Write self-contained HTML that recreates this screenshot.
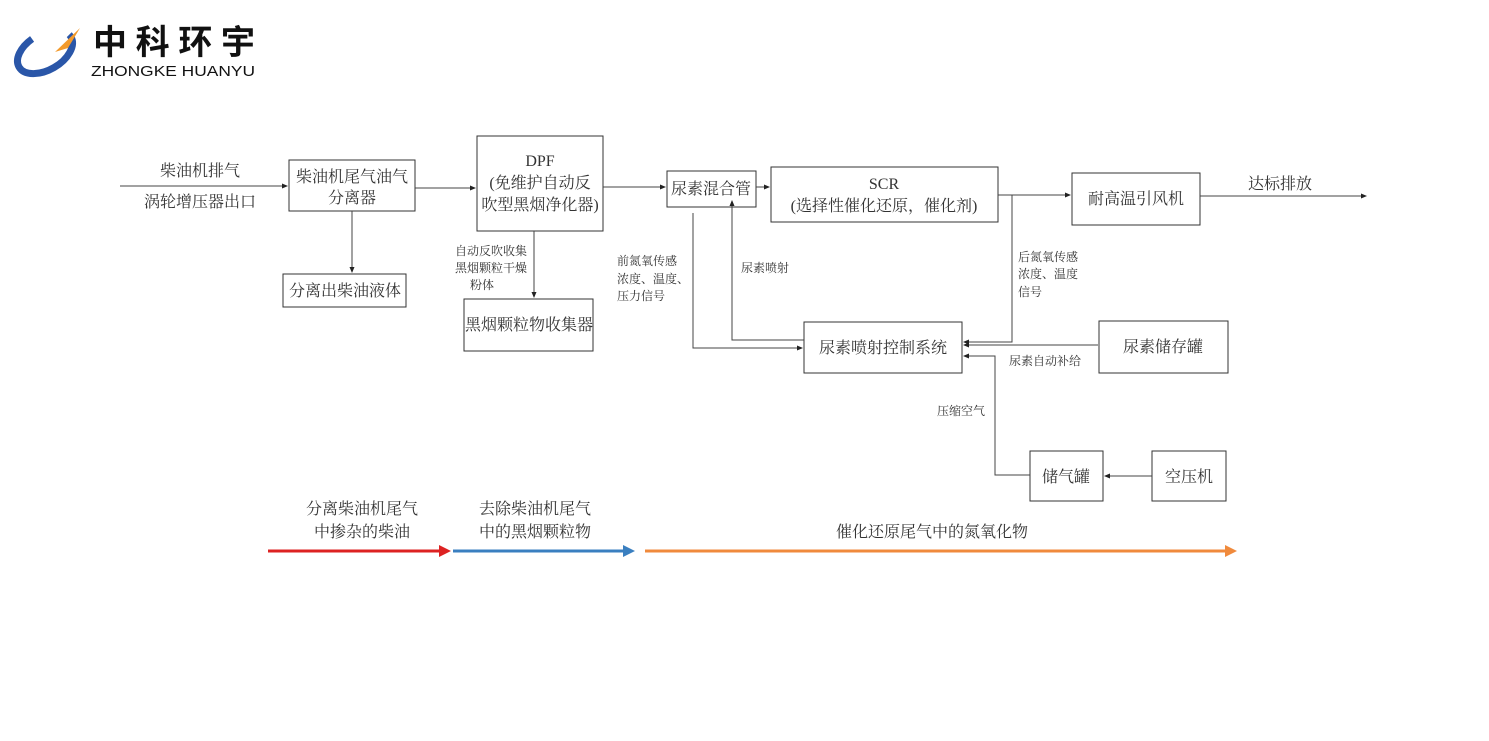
<!DOCTYPE html>
<html><head><meta charset="utf-8"><style>
body{margin:0;background:#fff;width:1489px;height:736px;overflow:hidden}
text{font-family:"Liberation Serif","Noto Serif CJK SC",serif;fill:#333}
.s{font-family:"Liberation Sans","Noto Sans CJK SC",sans-serif}
</style></head><body>
<svg width="1489" height="736" xmlns="http://www.w3.org/2000/svg">
<defs>
<marker id="a" markerWidth="6" markerHeight="6" refX="5" refY="3" orient="auto"><path d="M0,0.5 L6,3 L0,5.5z" fill="#222"/></marker>
<marker id="r" markerWidth="4" markerHeight="4" refX="3" refY="2" orient="auto"><path d="M0,0 L4,2 L0,4z" fill="#d22"/></marker>
<marker id="b" markerWidth="4" markerHeight="4" refX="3" refY="2" orient="auto"><path d="M0,0 L4,2 L0,4z" fill="#3a7fc0"/></marker>
<marker id="o" markerWidth="4" markerHeight="4" refX="3" refY="2" orient="auto"><path d="M0,0 L4,2 L0,4z" fill="#f08a3c"/></marker>
</defs>
<!-- logo -->
<ellipse cx="45" cy="52" rx="30" ry="18" fill="none" stroke="#2a56a8" stroke-width="7" transform="rotate(-30 45 52)" stroke-dasharray="110 40"/>
<path d="M55 52 L80 28 L68 48z" fill="#f39a2b"/>
<text class="s" x="93" y="54" font-size="34" font-weight="bold" style="fill:#111" textLength="162" lengthAdjust="spacing">中科环宇</text>
<text class="s" x="91" y="76" font-size="15" style="fill:#111" textLength="164" lengthAdjust="spacingAndGlyphs">ZHONGKE HUANYU</text>
<g stroke="#333" stroke-width="1" fill="none">
<rect x="289" y="160" width="126" height="51"/>
<rect x="477" y="136" width="126" height="95"/>
<rect x="667" y="171" width="89" height="36"/>
<rect x="771" y="167" width="227" height="55"/>
<rect x="1072" y="173" width="128" height="52"/>
<rect x="283" y="274" width="123" height="33"/>
<rect x="464" y="299" width="129" height="52"/>
<rect x="804" y="322" width="158" height="51"/>
<rect x="1099" y="321" width="129" height="52"/>
<rect x="1030" y="451" width="73" height="50"/>
<rect x="1152" y="451" width="74" height="50"/>
</g>
<g stroke="#444" stroke-width="1" fill="none" marker-end="url(#a)">
<path d="M120 186 H287"/>
<path d="M415 188 H475"/>
<path d="M603 187 H665"/>
<path d="M756 187 H769"/>
<path d="M998 195 H1070"/>
<path d="M1200 196 H1366"/>
<path d="M352 211 V272"/>
<path d="M534 231 V297"/>
<path d="M804 340 H732 V201"/>
<path d="M693 213 V348 H802"/>
<path d="M1012 195 V342 H964"/>
<path d="M1098 345 H964"/>
<path d="M1030 475 H995 V356 H964"/>
<path d="M1152 476 H1105"/>
</g>
<g font-size="16" text-anchor="middle">
<text x="200" y="176">柴油机排气</text>
<text x="200" y="207">涡轮增压器出口</text>
<text x="352" y="182">柴油机尾气油气</text>
<text x="352" y="203">分离器</text>
<text x="540" y="166">DPF</text>
<text x="540" y="188">(免维护自动反</text>
<text x="540" y="210">吹型黑烟净化器)</text>
<text x="711" y="194">尿素混合管</text>
<text x="884" y="189">SCR</text>
<text x="884" y="211">(选择性催化还原，催化剂)</text>
<text x="1136" y="204">耐高温引风机</text>
<text x="1280" y="189">达标排放</text>
<text x="345" y="296">分离出柴油液体</text>
<text x="529" y="330">黑烟颗粒物收集器</text>
<text x="883" y="353">尿素喷射控制系统</text>
<text x="1163" y="352">尿素储存罐</text>
<text x="1066" y="482">储气罐</text>
<text x="1189" y="482">空压机</text>
<text x="362" y="514">分离柴油机尾气</text>
<text x="362" y="537">中掺杂的柴油</text>
<text x="535" y="514">去除柴油机尾气</text>
<text x="535" y="537">中的黑烟颗粒物</text>
<text x="932" y="537">催化还原尾气中的氮氧化物</text>
</g>
<g font-size="12">
<text x="455" y="255">自动反吹收集</text>
<text x="455" y="272">黑烟颗粒干燥</text>
<text x="470" y="289">粉体</text>
<text x="617" y="265">前氮氧传感</text>
<text x="617" y="283">浓度、温度、</text>
<text x="617" y="300">压力信号</text>
<text x="741" y="272">尿素喷射</text>
<text x="1018" y="261">后氮氧传感</text>
<text x="1018" y="278">浓度、温度</text>
<text x="1018" y="296">信号</text>
<text x="1009" y="365">尿素自动补给</text>
<text x="937" y="415">压缩空气</text>
</g>
<path d="M268 551 H448" stroke="#d22" stroke-width="3" marker-end="url(#r)"/>
<path d="M453 551 H632" stroke="#3a7fc0" stroke-width="3" marker-end="url(#b)"/>
<path d="M645 551 H1234" stroke="#f08a3c" stroke-width="3" marker-end="url(#o)"/>
</svg>
</body></html>
